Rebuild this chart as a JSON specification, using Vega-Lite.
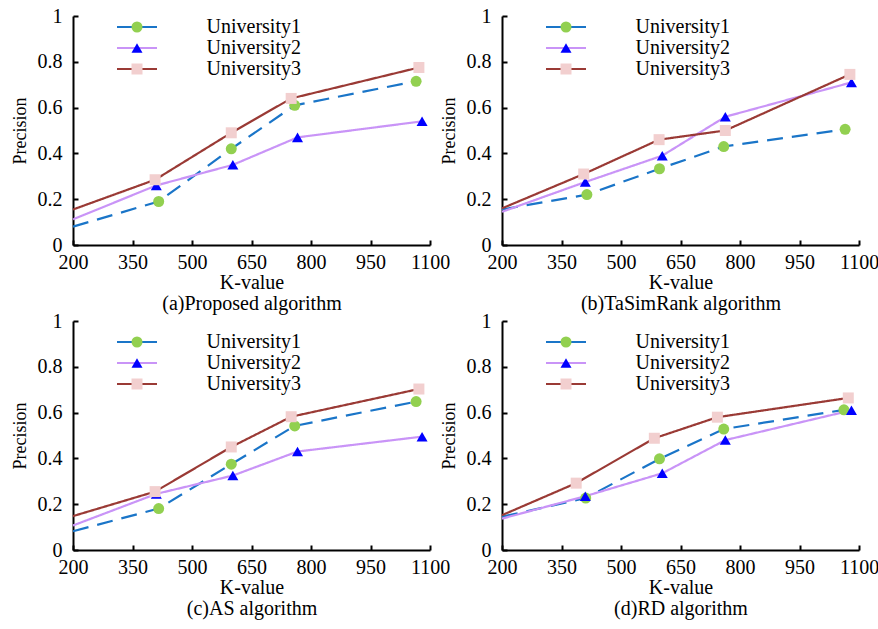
{
  "$schema": "https://vega.github.io/schema/vega-lite/v6.json",
  "data": {"values": [
    {"panel":"a","series":"University1","k":200,"p":0.08},
    {"panel":"a","series":"University1","k":416,"p":0.19},
    {"panel":"a","series":"University1","k":599,"p":0.42},
    {"panel":"a","series":"University1","k":759,"p":0.61},
    {"panel":"a","series":"University1","k":1065,"p":0.715},
    {"panel":"a","series":"University2","k":200,"p":0.112},
    {"panel":"a","series":"University2","k":410,"p":0.26},
    {"panel":"a","series":"University2","k":603,"p":0.35},
    {"panel":"a","series":"University2","k":766,"p":0.47},
    {"panel":"a","series":"University2","k":1080,"p":0.54},
    {"panel":"a","series":"University3","k":200,"p":0.155},
    {"panel":"a","series":"University3","k":407,"p":0.285},
    {"panel":"a","series":"University3","k":599,"p":0.49},
    {"panel":"a","series":"University3","k":750,"p":0.64},
    {"panel":"a","series":"University3","k":1072,"p":0.775},

    {"panel":"b","series":"University1","k":200,"p":0.155},
    {"panel":"b","series":"University1","k":414,"p":0.22},
    {"panel":"b","series":"University1","k":597,"p":0.333},
    {"panel":"b","series":"University1","k":759,"p":0.43},
    {"panel":"b","series":"University1","k":1065,"p":0.505},
    {"panel":"b","series":"University2","k":200,"p":0.145},
    {"panel":"b","series":"University2","k":410,"p":0.275},
    {"panel":"b","series":"University2","k":604,"p":0.39},
    {"panel":"b","series":"University2","k":763,"p":0.56},
    {"panel":"b","series":"University2","k":1081,"p":0.71},
    {"panel":"b","series":"University3","k":200,"p":0.16},
    {"panel":"b","series":"University3","k":406,"p":0.31},
    {"panel":"b","series":"University3","k":596,"p":0.46},
    {"panel":"b","series":"University3","k":763,"p":0.5},
    {"panel":"b","series":"University3","k":1077,"p":0.745},

    {"panel":"c","series":"University1","k":200,"p":0.082},
    {"panel":"c","series":"University1","k":416,"p":0.181},
    {"panel":"c","series":"University1","k":599,"p":0.375},
    {"panel":"c","series":"University1","k":759,"p":0.542},
    {"panel":"c","series":"University1","k":1065,"p":0.648},
    {"panel":"c","series":"University2","k":200,"p":0.107},
    {"panel":"c","series":"University2","k":410,"p":0.245},
    {"panel":"c","series":"University2","k":603,"p":0.325},
    {"panel":"c","series":"University2","k":766,"p":0.43},
    {"panel":"c","series":"University2","k":1080,"p":0.495},
    {"panel":"c","series":"University3","k":200,"p":0.148},
    {"panel":"c","series":"University3","k":407,"p":0.255},
    {"panel":"c","series":"University3","k":599,"p":0.45},
    {"panel":"c","series":"University3","k":750,"p":0.582},
    {"panel":"c","series":"University3","k":1072,"p":0.703},

    {"panel":"d","series":"University1","k":200,"p":0.145},
    {"panel":"d","series":"University1","k":411,"p":0.227},
    {"panel":"d","series":"University1","k":597,"p":0.398},
    {"panel":"d","series":"University1","k":759,"p":0.528},
    {"panel":"d","series":"University1","k":1062,"p":0.612},
    {"panel":"d","series":"University2","k":200,"p":0.137},
    {"panel":"d","series":"University2","k":410,"p":0.235},
    {"panel":"d","series":"University2","k":604,"p":0.335},
    {"panel":"d","series":"University2","k":763,"p":0.48},
    {"panel":"d","series":"University2","k":1081,"p":0.61},
    {"panel":"d","series":"University3","k":200,"p":0.152},
    {"panel":"d","series":"University3","k":387,"p":0.292},
    {"panel":"d","series":"University3","k":584,"p":0.488},
    {"panel":"d","series":"University3","k":743,"p":0.58},
    {"panel":"d","series":"University3","k":1073,"p":0.664}
  ]},
  "columns": 2,
  "spacing": {"row": 76, "column": 72},
  "bounds": "flush",
  "padding": {"left": 11, "top": 6, "right": 0, "bottom": 4},
  "resolve": {
    "scale": {"stroke": "independent", "strokeDash": "independent", "fill": "independent", "shape": "independent"},
    "legend": {"stroke": "independent", "strokeDash": "independent", "fill": "independent", "shape": "independent"}
  },
  "concat": [
    {
      "width": 357, "height": 229,
      "transform": [{"filter": "datum.panel === 'a'"}],
      "encoding": {
        "x": {"field": "k", "type": "quantitative", "scale": {"domain": [200, 1100], "nice": false, "zero": false}, "axis": {"values": [200, 350, 500, 650, 800, 950, 1100], "format": "d", "title": ["K-value", "(a)Proposed algorithm"]}},
        "y": {"field": "p", "type": "quantitative", "scale": {"domain": [0, 1], "nice": false}, "axis": {"values": [0, 0.2, 0.4, 0.6, 0.8, 1], "format": "~g", "title": "Precision"}}
      },
      "layer": [
        {"mark": {"type": "line", "strokeWidth": 2.2},
         "encoding": {
           "stroke": {"field": "series", "type": "nominal", "scale": {"domain": ["University1", "University2", "University3"], "range": ["#1a75c8", "#c994f7", "#9a3a35"]}, "legend": {"orient": "none", "legendX": 42.5, "legendY": 1, "title": null, "symbolType": "stroke", "symbolSize": 1600, "symbolStrokeWidth": 2.2, "labelFont": "Liberation Serif, Times New Roman, serif", "labelFontSize": 20, "labelColor": "black", "labelOffset": 48, "rowPadding": 1, "padding": 0, "clipHeight": 20}},
           "strokeDash": {"field": "series", "type": "nominal", "scale": {"domain": ["University1", "University2", "University3"], "range": [[16, 9], [1, 0], [1, 0]]}, "legend": {"orient": "none", "legendX": 42.5, "legendY": 1, "title": null, "symbolType": "stroke", "symbolSize": 1600, "symbolStrokeWidth": 2.2, "labelFont": "Liberation Serif, Times New Roman, serif", "labelFontSize": 20, "labelColor": "black", "labelOffset": 48, "rowPadding": 1, "padding": 0, "clipHeight": 20}}
         }},
        {"transform": [{"filter": "datum.k > 200"}],
         "mark": {"type": "point", "filled": true, "opacity": 1, "size": 121, "strokeWidth": 0},
         "encoding": {
           "fill": {"field": "series", "type": "nominal", "scale": {"range": ["#92d050", "#0000ff", "#f2cfcf"]}, "legend": {"orient": "none", "legendX": 54, "legendY": 1, "title": null, "symbolSize": 121, "symbolStrokeWidth": 0, "labelFontSize": 20, "labelExpr": "''", "rowPadding": 1, "padding": 0, "clipHeight": 20}},
           "shape": {"field": "series", "type": "nominal", "scale": {"range": ["circle", "triangle-up", "square"]}, "legend": {"orient": "none", "legendX": 54, "legendY": 1, "title": null, "symbolSize": 121, "symbolStrokeWidth": 0, "labelFontSize": 20, "labelExpr": "''", "rowPadding": 1, "padding": 0, "clipHeight": 20}}
         }}
      ]
    },
    {
      "width": 357, "height": 229,
      "transform": [{"filter": "datum.panel === 'b'"}],
      "encoding": {
        "x": {"field": "k", "type": "quantitative", "scale": {"domain": [200, 1100], "nice": false, "zero": false}, "axis": {"values": [200, 350, 500, 650, 800, 950, 1100], "format": "d", "title": ["K-value", "(b)TaSimRank algorithm"]}},
        "y": {"field": "p", "type": "quantitative", "scale": {"domain": [0, 1], "nice": false}, "axis": {"values": [0, 0.2, 0.4, 0.6, 0.8, 1], "format": "~g", "title": "Precision"}}
      },
      "layer": [
        {"mark": {"type": "line", "strokeWidth": 2.2},
         "encoding": {
           "stroke": {"field": "series", "type": "nominal", "scale": {"domain": ["University1", "University2", "University3"], "range": ["#1a75c8", "#c994f7", "#9a3a35"]}, "legend": {"orient": "none", "legendX": 42.5, "legendY": 1, "title": null, "symbolType": "stroke", "symbolSize": 1600, "symbolStrokeWidth": 2.2, "labelFont": "Liberation Serif, Times New Roman, serif", "labelFontSize": 20, "labelColor": "black", "labelOffset": 48, "rowPadding": 1, "padding": 0, "clipHeight": 20}},
           "strokeDash": {"field": "series", "type": "nominal", "scale": {"domain": ["University1", "University2", "University3"], "range": [[16, 9], [1, 0], [1, 0]]}, "legend": {"orient": "none", "legendX": 42.5, "legendY": 1, "title": null, "symbolType": "stroke", "symbolSize": 1600, "symbolStrokeWidth": 2.2, "labelFont": "Liberation Serif, Times New Roman, serif", "labelFontSize": 20, "labelColor": "black", "labelOffset": 48, "rowPadding": 1, "padding": 0, "clipHeight": 20}}
         }},
        {"transform": [{"filter": "datum.k > 200"}],
         "mark": {"type": "point", "filled": true, "opacity": 1, "size": 121, "strokeWidth": 0},
         "encoding": {
           "fill": {"field": "series", "type": "nominal", "scale": {"range": ["#92d050", "#0000ff", "#f2cfcf"]}, "legend": {"orient": "none", "legendX": 54, "legendY": 1, "title": null, "symbolSize": 121, "symbolStrokeWidth": 0, "labelFontSize": 20, "labelExpr": "''", "rowPadding": 1, "padding": 0, "clipHeight": 20}},
           "shape": {"field": "series", "type": "nominal", "scale": {"range": ["circle", "triangle-up", "square"]}, "legend": {"orient": "none", "legendX": 54, "legendY": 1, "title": null, "symbolSize": 121, "symbolStrokeWidth": 0, "labelFontSize": 20, "labelExpr": "''", "rowPadding": 1, "padding": 0, "clipHeight": 20}}
         }}
      ]
    },
    {
      "width": 357, "height": 229,
      "transform": [{"filter": "datum.panel === 'c'"}],
      "encoding": {
        "x": {"field": "k", "type": "quantitative", "scale": {"domain": [200, 1100], "nice": false, "zero": false}, "axis": {"values": [200, 350, 500, 650, 800, 950, 1100], "format": "d", "title": ["K-value", "(c)AS algorithm"]}},
        "y": {"field": "p", "type": "quantitative", "scale": {"domain": [0, 1], "nice": false}, "axis": {"values": [0, 0.2, 0.4, 0.6, 0.8, 1], "format": "~g", "title": "Precision"}}
      },
      "layer": [
        {"mark": {"type": "line", "strokeWidth": 2.2},
         "encoding": {
           "stroke": {"field": "series", "type": "nominal", "scale": {"domain": ["University1", "University2", "University3"], "range": ["#1a75c8", "#c994f7", "#9a3a35"]}, "legend": {"orient": "none", "legendX": 42.5, "legendY": 11, "title": null, "symbolType": "stroke", "symbolSize": 1600, "symbolStrokeWidth": 2.2, "labelFont": "Liberation Serif, Times New Roman, serif", "labelFontSize": 20, "labelColor": "black", "labelOffset": 48, "rowPadding": 1, "padding": 0, "clipHeight": 20}},
           "strokeDash": {"field": "series", "type": "nominal", "scale": {"domain": ["University1", "University2", "University3"], "range": [[16, 9], [1, 0], [1, 0]]}, "legend": {"orient": "none", "legendX": 42.5, "legendY": 11, "title": null, "symbolType": "stroke", "symbolSize": 1600, "symbolStrokeWidth": 2.2, "labelFont": "Liberation Serif, Times New Roman, serif", "labelFontSize": 20, "labelColor": "black", "labelOffset": 48, "rowPadding": 1, "padding": 0, "clipHeight": 20}}
         }},
        {"transform": [{"filter": "datum.k > 200"}],
         "mark": {"type": "point", "filled": true, "opacity": 1, "size": 121, "strokeWidth": 0},
         "encoding": {
           "fill": {"field": "series", "type": "nominal", "scale": {"range": ["#92d050", "#0000ff", "#f2cfcf"]}, "legend": {"orient": "none", "legendX": 54, "legendY": 11, "title": null, "symbolSize": 121, "symbolStrokeWidth": 0, "labelFontSize": 20, "labelExpr": "''", "rowPadding": 1, "padding": 0, "clipHeight": 20}},
           "shape": {"field": "series", "type": "nominal", "scale": {"range": ["circle", "triangle-up", "square"]}, "legend": {"orient": "none", "legendX": 54, "legendY": 11, "title": null, "symbolSize": 121, "symbolStrokeWidth": 0, "labelFontSize": 20, "labelExpr": "''", "rowPadding": 1, "padding": 0, "clipHeight": 20}}
         }}
      ]
    },
    {
      "width": 357, "height": 229,
      "transform": [{"filter": "datum.panel === 'd'"}],
      "encoding": {
        "x": {"field": "k", "type": "quantitative", "scale": {"domain": [200, 1100], "nice": false, "zero": false}, "axis": {"values": [200, 350, 500, 650, 800, 950, 1100], "format": "d", "title": ["K-value", "(d)RD algorithm"]}},
        "y": {"field": "p", "type": "quantitative", "scale": {"domain": [0, 1], "nice": false}, "axis": {"values": [0, 0.2, 0.4, 0.6, 0.8, 1], "format": "~g", "title": "Precision"}}
      },
      "layer": [
        {"mark": {"type": "line", "strokeWidth": 2.2},
         "encoding": {
           "stroke": {"field": "series", "type": "nominal", "scale": {"domain": ["University1", "University2", "University3"], "range": ["#1a75c8", "#c994f7", "#9a3a35"]}, "legend": {"orient": "none", "legendX": 42.5, "legendY": 11, "title": null, "symbolType": "stroke", "symbolSize": 1600, "symbolStrokeWidth": 2.2, "labelFont": "Liberation Serif, Times New Roman, serif", "labelFontSize": 20, "labelColor": "black", "labelOffset": 48, "rowPadding": 1, "padding": 0, "clipHeight": 20}},
           "strokeDash": {"field": "series", "type": "nominal", "scale": {"domain": ["University1", "University2", "University3"], "range": [[16, 9], [1, 0], [1, 0]]}, "legend": {"orient": "none", "legendX": 42.5, "legendY": 11, "title": null, "symbolType": "stroke", "symbolSize": 1600, "symbolStrokeWidth": 2.2, "labelFont": "Liberation Serif, Times New Roman, serif", "labelFontSize": 20, "labelColor": "black", "labelOffset": 48, "rowPadding": 1, "padding": 0, "clipHeight": 20}}
         }},
        {"transform": [{"filter": "datum.k > 200"}],
         "mark": {"type": "point", "filled": true, "opacity": 1, "size": 121, "strokeWidth": 0},
         "encoding": {
           "fill": {"field": "series", "type": "nominal", "scale": {"range": ["#92d050", "#0000ff", "#f2cfcf"]}, "legend": {"orient": "none", "legendX": 54, "legendY": 11, "title": null, "symbolSize": 121, "symbolStrokeWidth": 0, "labelFontSize": 20, "labelExpr": "''", "rowPadding": 1, "padding": 0, "clipHeight": 20}},
           "shape": {"field": "series", "type": "nominal", "scale": {"range": ["circle", "triangle-up", "square"]}, "legend": {"orient": "none", "legendX": 54, "legendY": 11, "title": null, "symbolSize": 121, "symbolStrokeWidth": 0, "labelFontSize": 20, "labelExpr": "''", "rowPadding": 1, "padding": 0, "clipHeight": 20}}
         }}
      ]
    }
  ],
  "config": {
    "view": {"stroke": null},
    "background": "white",
    "axis": {
      "grid": false,
      "domainColor": "black", "domainWidth": 2,
      "tickColor": "black", "tickWidth": 2, "tickSize": -5,
      "labelFont": "Liberation Serif, Times New Roman, serif", "labelFontSize": 20, "labelColor": "black",
      "titleFont": "Liberation Serif, Times New Roman, serif", "titleFontSize": 20, "titleFontWeight": "normal", "titleColor": "black"
    },
    "axisX": {"labelPadding": 12, "titlePadding": 0, "titleLineHeight": 21, "labelFlush": false, "labelOverlap": false},
    "axisY": {"labelPadding": 16, "titlePadding": 8, "titleFontSize": 18}
  }
}
